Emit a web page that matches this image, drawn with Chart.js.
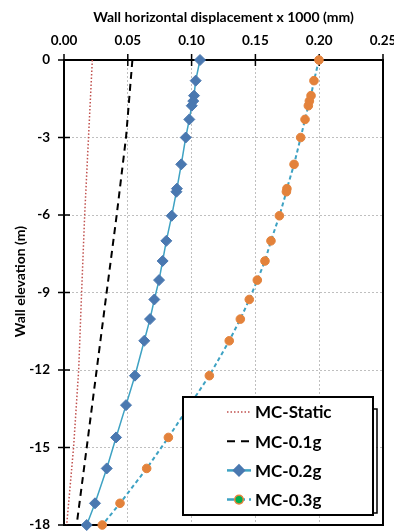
<!DOCTYPE html>
<html>
<head>
<meta charset="utf-8">
<script src="https://cdn.jsdelivr.net/npm/chart.js@4/dist/chart.umd.min.js"></script>
<style>
  html, body { margin: 0; padding: 0; background: #fff; overflow: hidden; }
  canvas { display: block; }
</style>
</head>
<body>
<canvas id="wallchart" width="394" height="531"></canvas>
<script>
// Elevations (m) for the linear static / 0.1g profiles
var elevLinear = [0, -3, -6, -9, -12, -15, -18];
var mcStatic = [0.0222, 0.0192, 0.0162, 0.0138, 0.0115, 0.0075, 0.0021];
var mc01g = [0.0536, 0.0486, 0.0413, 0.0334, 0.0256, 0.0178, 0.0099];

// Elevations (m) for the 0.2g / 0.3g profiles (marker points)
var elevPoints = [0, -0.8, -1.38, -1.59, -1.77, -2.3, -3.0, -4.04, -4.98, -5.1, -6.03, -7.0,
    -7.78, -8.52, -9.27, -10.03, -10.87, -12.22, -13.36, -14.61, -15.81, -17.16, -18];
var mc02g = [0.1066, 0.1032, 0.1019, 0.1013, 0.1001, 0.0982, 0.0954, 0.0919, 0.0885, 0.0881,
    0.0844, 0.0802, 0.0773, 0.0745, 0.0708, 0.0674, 0.0629, 0.0556, 0.0486, 0.0408, 0.0335, 0.0243, 0.0178];
var mc03g = [0.1998, 0.1959, 0.1936, 0.1923, 0.1915, 0.1889, 0.1855, 0.1803, 0.1747, 0.1743,
    0.1688, 0.1622, 0.1575, 0.1515, 0.1452, 0.1382, 0.1295, 0.1139, 0.0985, 0.0818, 0.0648, 0.0439, 0.0300];

var seriesNames = ['MC-Static', 'MC-0.1g', 'MC-0.2g', 'MC-0.3g'];
var xTickLabels = ['0.00', '0.05', '0.10', '0.15', '0.20', '0.25'];
var yTickLabels = ['0', '-3', '-6', '-9', '-12', '-15', '-18'];
var yTitle = 'Wall elevation (m)';

var FONT = 'Lato, "Open Sans", sans-serif';

function pairs(xs, ys) {
    return xs.map(function (v, i) { return { x: v, y: ys[i] }; });
}

// Frame, crossing tick marks, y axis title
var framePlugin = {
    id: 'frame',
    beforeDatasetsDraw: function (chart) {
        var ctx = chart.ctx, a = chart.chartArea;
        var xs = chart.scales.x, ys = chart.scales.y;
        ctx.save();
        ctx.strokeStyle = '#000';
        ctx.lineWidth = 2;
        ctx.strokeRect(a.left, a.top, a.right - a.left, a.bottom - a.top);
        ctx.lineWidth = 1.5;
        ctx.beginPath();
        ys.ticks.forEach(function (t) {
            var y = ys.getPixelForValue(t.value);
            ctx.moveTo(a.left - 6, y);
            ctx.lineTo(a.left + 6, y);
        });
        xs.ticks.forEach(function (t) {
            var x = xs.getPixelForValue(t.value);
            ctx.moveTo(x, a.top - 6);
            ctx.lineTo(x, a.top + 6);
        });
        ctx.stroke();

        // y title sits a little above the middle of the axis
        ctx.translate(20, (a.top + a.bottom) / 2 - 11);
        ctx.rotate(-Math.PI / 2);
        ctx.fillStyle = '#000';
        ctx.font = 'bold 14px ' + FONT;
        ctx.textAlign = 'center';
        ctx.textBaseline = 'middle';
        ctx.fillText(yTitle, 0, 0);
        ctx.restore();
    }
};

// Boxed legend inside the plot, drawn over the lines
var legendPlugin = {
    id: 'boxLegend',
    afterDatasetsDraw: function (chart) {
        var ctx = chart.ctx, a = chart.chartArea;
        var w = 190, h = 118;
        var x0 = a.right - 200, y0 = a.bottom - 128;
        ctx.save();
        ctx.fillStyle = '#fff';
        ctx.fillRect(x0, y0, w, h);
        ctx.strokeStyle = '#000';
        ctx.lineWidth = 2;
        ctx.strokeRect(x0, y0, w, h);
        // second frame edge
        ctx.lineWidth = 1.5;
        ctx.beginPath();
        ctx.moveTo(x0 + w, y0 + 12);
        ctx.lineTo(x0 + w + 4, y0 + 12);
        ctx.lineTo(x0 + w + 4, y0 + h - 2);
        ctx.lineTo(x0 + w, y0 + h - 2);
        ctx.stroke();

        var symL = x0 + 44, symR = x0 + 68, textX = x0 + 72;
        chart.data.datasets.forEach(function (ds, i) {
            var y = y0 + 15 + i * 29.2;
            ctx.save();
            ctx.strokeStyle = ds.borderColor;
            ctx.lineWidth = ds.legendLineWidth || ds.borderWidth;
            ctx.setLineDash(ds.legendDash || []);
            ctx.beginPath();
            ctx.moveTo(symL, y);
            ctx.lineTo(symR, y);
            ctx.stroke();
            ctx.restore();
            if (ds.pointRadius > 0) {
                ctx.save();
                ctx.fillStyle = ds.legendPointFill || ds.pointBackgroundColor;
                ctx.strokeStyle = ds.pointBorderColor;
                Chart.helpers.drawPoint(ctx, {
                    pointStyle: ds.pointStyle, radius: ds.pointRadius,
                    borderWidth: ds.pointBorderWidth, rotation: 0
                }, (symL + symR) / 2, y);
                ctx.restore();
            }
            ctx.fillStyle = '#000';
            ctx.font = 'bold 17px ' + FONT;
            ctx.textBaseline = 'middle';
            ctx.textAlign = 'left';
            ctx.fillText(ds.label, textX, y + 1);
        });
        ctx.restore();
    }
};

var ctx = document.getElementById('wallchart').getContext('2d');

var wallchart = new Chart(ctx, {
    type: 'scatter',
    data: {
        datasets: [{
            label: seriesNames[0],
            data: pairs(mcStatic, elevLinear),
            showLine: true,
            borderColor: '#c0504d',
            borderWidth: 1.5,
            borderDash: [1.5, 2],
            legendDash: [1.5, 2],
            pointRadius: 0,
            clip: false
        }, {
            label: seriesNames[1],
            data: pairs(mc01g, elevLinear),
            showLine: true,
            borderColor: '#000',
            borderWidth: 2,
            borderDash: [7, 5],
            legendDash: [8, 6],
            pointRadius: 0,
            clip: false
        }, {
            label: seriesNames[2],
            data: pairs(mc02g, elevPoints),
            showLine: true,
            borderColor: '#3ea2c3',
            borderWidth: 1.5,
            legendLineWidth: 2.5,
            pointStyle: 'rectRot',
            pointRadius: 5.5,
            pointBorderWidth: 1,
            pointBackgroundColor: '#4a78b0',
            pointBorderColor: '#4a78b0',
            clip: false
        }, {
            label: seriesNames[3],
            data: pairs(mc03g, elevPoints),
            showLine: true,
            borderColor: '#3ea2c3',
            borderWidth: 2,
            borderDash: [4, 3],
            legendLineWidth: 2.5,
            legendDash: [7, 4],
            pointStyle: 'circle',
            pointRadius: 4.3,
            pointBorderWidth: 1,
            pointBackgroundColor: '#e3823b',
            pointBorderColor: '#e3823b',
            legendPointFill: '#00b050',
            clip: false
        }]
    },
    options: {
        responsive: false,
        devicePixelRatio: 1,
        animation: false,
        layout: { autoPadding: false, padding: { left: 0, top: 0, right: 11, bottom: 6 } },
        scales: {
            x: {
                type: 'linear',
                position: 'top',
                min: 0,
                max: 0.25,
                afterFit: function (scale) {
                    scale.height = 60;
                    scale.paddingLeft = 0;
                    scale.paddingRight = 0;
                },
                afterBuildTicks: function (scale) {
                    scale.ticks = xTickLabels.map(function (t) { return { value: parseFloat(t) }; });
                },
                ticks: {
                    padding: 11,
                    color: '#000',
                    font: { family: FONT, size: 13.5, weight: 'bold' },
                    callback: function (v, i) { return xTickLabels[i]; }
                },
                grid: { color: '#bfbfbf', lineWidth: 1, drawTicks: false },
                border: { display: false, dash: [2, 2] },
                title: {
                    display: true,
                    text: 'Wall horizontal displacement x 1000 (mm)',
                    color: '#000',
                    font: { family: FONT, size: 14, weight: 'bold' },
                    padding: { top: 9.5, bottom: 0 }
                }
            },
            y: {
                type: 'linear',
                min: -18,
                max: 0,
                afterFit: function (scale) {
                    scale.width = 64;
                    scale.paddingTop = 0;
                    scale.paddingBottom = 0;
                },
                afterBuildTicks: function (scale) {
                    scale.ticks = yTickLabels.map(function (t) { return { value: parseFloat(t) }; });
                },
                ticks: {
                    padding: 14,
                    color: '#000',
                    font: { family: FONT, size: 13.5, weight: 'bold' },
                    callback: function (v, i) { return yTickLabels[i]; }
                },
                grid: { color: '#bfbfbf', lineWidth: 1, drawTicks: false },
                border: { display: false, dash: [2, 2] },
                title: { display: false }
            }
        },
        plugins: {
            legend: { display: false },
            tooltip: { enabled: false }
        }
    },
    plugins: [framePlugin, legendPlugin]
});
</script>
</body>
</html>
